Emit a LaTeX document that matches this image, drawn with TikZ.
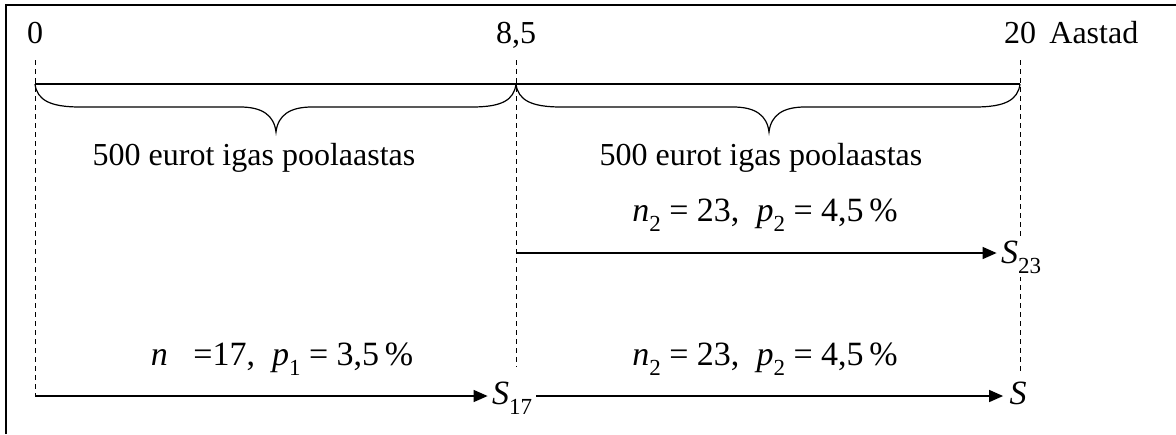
\documentclass[tikz,border=0pt]{standalone}
\usepackage{fontspec}
\setmainfont{Liberation Serif}
\usetikzlibrary{arrows.meta}
\newcommand{\sbs}[1]{\raisebox{-0.3em}{\fontsize{11.5}{11.5}\selectfont #1}}
\begin{document}
\begin{tikzpicture}[x=0.5pt,y=-0.5pt,
  lbl/.style={anchor=base,inner sep=0pt,font=\fontsize{16}{19}\selectfont},
  eq/.style={anchor=base,inner sep=0pt,font=\fontsize{17}{20}\selectfont},
  dsh/.style={dash pattern=on 2.5pt off 2pt,line width=0.5pt},
  arr/.style={-{Triangle[length=7pt,width=6pt]},line width=0.7pt},
  brc/.style={line width=0.6pt},
  frame/.style={line width=1pt}]
\useasboundingbox (0,0) rectangle (1176,434);
% frame (only top and left edges visible)
\draw[frame] (6,434) -- (6,5) -- (1176,5);
% top labels
\node[lbl] (t0) at (35,43) {0};
\node[lbl] (t85) at (516,43) {8,5};
\node[lbl] (t20) at (1020,43) {20};
\node[lbl,anchor=base west] (aastad) at (1049,43) {Aastad};
% coordinates
\coordinate (d0top) at (35,60);
\coordinate (d0bot) at (35,396);
\coordinate (d85top) at (516,60);
\coordinate (d85bot) at (516,367);
\coordinate (d85mid) at (516,253);
\coordinate (d20top) at (1020,60);
\coordinate (d20bot) at (1020,373);
% dashed verticals
\draw[dsh] (d0top) -- (d0bot);
\draw[dsh] (d85top) -- (d85bot);
\draw[dsh] (d20top) -- (d20bot);
% braces
\coordinate (b0) at (35,84);
\coordinate (b1) at (516,84);
\coordinate (b2) at (1020,84);
\draw[brc] (b0) -- (b2);
\draw[brc] (b0) .. controls (37,100) and (50,107) .. (80,107) -- (240,107)
  .. controls (262,107) and (274,115) .. (276,132)
  .. controls (278,115) and (290,107) .. (312,107) -- (472,107)
  .. controls (502,107) and (514,100) .. (b1);
\draw[brc] (b1) .. controls (518,100) and (531,107) .. (561,107) -- (733,107)
  .. controls (755,107) and (767,115) .. (769,132)
  .. controls (771,115) and (783,107) .. (805,107) -- (975,107)
  .. controls (1005,107) and (1018,100) .. (b2);
% brace labels
\node[lbl] (l1) at (254,165) {500 eurot igas poolaastas};
\node[lbl] (l2) at (761,165) {500 eurot igas poolaastas};
% upper line
\node[eq] (e1) at (765,221) {\textit{n}\sbs{2} = 23,\ \ \textit{p}\sbs{2} = 4,5\,\%};
\node[eq,fill=white,inner sep=2pt] (s23) at (1021,263) {\textit{S}\sbs{23}};
\draw[arr] (d85mid) -- (s23.west |- d85mid);
% lower line
\node[eq] (e2) at (282,365) {\textit{n}\ \ \ =17,\ \ \textit{p}\sbs{1} = 3,5\,\%};
\node[eq] (e3) at (765,365) {\textit{n}\sbs{2} = 23,\ \ \textit{p}\sbs{2} = 4,5\,\%};
\node[eq,inner sep=2pt] (s17) at (512,404) {\textit{S}\sbs{17}};
\node[eq,inner sep=3pt] (s) at (1018,404) {\textit{S}};
\draw[arr] (d0bot) -- (s17.west |- d0bot);
\draw[arr] (s17.east |- d0bot) -- (s.west |- d0bot);
\end{tikzpicture}
\end{document}
